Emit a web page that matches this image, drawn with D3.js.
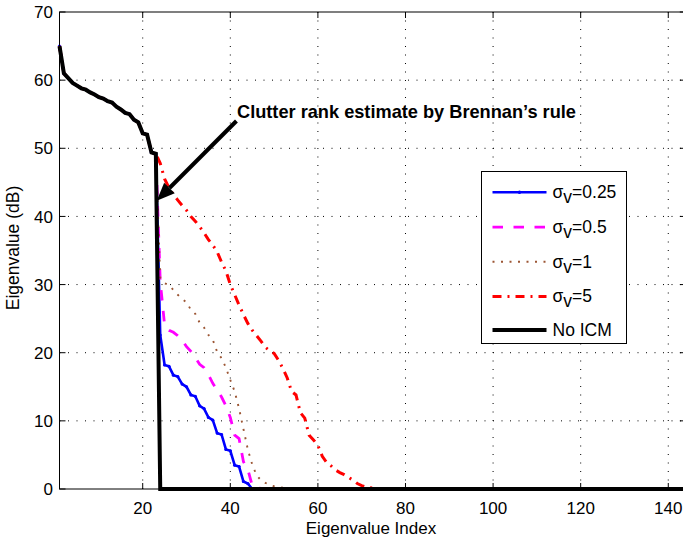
<!DOCTYPE html>
<html>
<head>
<meta charset="utf-8">
<script src="https://cdn.jsdelivr.net/npm/d3@7"></script>
<style>
  body { margin: 0; background: #fff; }
  svg { display: block; font-family: "Liberation Sans", Arial, Helvetica, sans-serif; }
</style>
</head>
<body>
<div id="chart"></div>
<script>
// eigenvalue index runs 1..144
const lastIndex = 144;
const xTicks = [20, 40, 60, 80, 100, 120, 140];
const yTicks = [0, 10, 20, 30, 40, 50, 60, 70];

// first 23 eigenvalues (dB), shared by every curve
const clutterHead = [65.0, 61.0, 60.3, 59.6, 59.2, 58.8, 58.6, 58.2, 57.9, 57.5, 57.3, 56.9,
  56.7, 56.1, 55.7, 55.2, 55.0, 54.2, 53.8, 52.2, 52.0, 49.4, 49.2];

// values from index 24 on, until the curve reaches 0 dB
const tailNoIcm = [0];
const tailSigma025 = [22.6, 18.2, 18.0, 16.7, 16.5, 15.4, 15.0, 13.8, 13.6, 12.2, 11.8, 10.5,
  10.1, 8.2, 8.0, 5.8, 5.6, 3.5, 3.3, 1.1, 0.8, 0];
const tailSigma05 = [30.5, 24.0, 23.3, 23.0, 22.5, 21.8, 20.9, 20.2, 19.3, 18.3, 17.8, 16.8,
  15.5, 14.5, 13.5, 12.2, 10.5, 7.9, 7.4, 4.0, 2.9, 0.5, 0.2, 0.1, 0];
const tailSigma1 = [31.0, 30.2, 29.9, 29.2, 28.5, 27.9, 27.4, 26.3, 25.7, 24.4, 23.7, 22.6,
  21.9, 20.1, 19.2, 17.8, 16.0, 14.3, 11.8, 8.8, 5.8, 3.6, 2.0, 1.3, 0.9, 0.6, 0.4, 0.3,
  0.2, 0.15, 0.1, 0.05, 0];
const tailSigma5 = [47.8, 45.5, 44.2, 43.2, 42.4, 41.6, 40.9, 40.0, 39.3, 38.5, 37.6, 36.6,
  35.8, 34.8, 33.3, 32.0, 30.0, 28.5, 27.0, 25.6, 24.3, 23.3, 22.5, 21.7, 20.8, 20.3, 19.9,
  18.9, 17.7, 16.3, 14.3, 13.8, 11.2, 10.4, 7.9, 7.2, 6.4, 4.8, 3.9, 3.4, 2.8, 2.4, 2.1,
  1.7, 1.3, 0.8, 0.5, 0.3, 0.2, 0.1, 0.05, 0];

const seriesNames = ["0.25", "0.5", "1", "5", "No ICM"];

const W = 683, H = 541;
const plotL = 59.5, plotR = 685.8, plotT = 12, plotB = 489;

const x = d3.scaleLinear().domain([1, lastIndex]).range([plotL, plotR]);
const y = d3.scaleLinear().domain([0, 70]).range([plotB, plotT]);

function toPoints(tail) {
  const vals = clutterHead.concat(tail);
  const pts = vals.map((v, i) => [i + 1, v]);
  // flat at 0 dB out to the last index
  pts.push([lastIndex, 0]);
  return pts;
}

const series = [
  { name: seriesNames[0], pts: toPoints(tailSigma025), color: "#0000ff", width: 2.6, dash: null, marker: true },
  { name: seriesNames[1], pts: toPoints(tailSigma05), color: "#ff00ff", width: 2.8, dash: "10.5,10.5" },
  { name: seriesNames[2], pts: toPoints(tailSigma1), color: "#9c5634", width: 1.9, dash: "2,6.5" },
  { name: seriesNames[3], pts: toPoints(tailSigma5), color: "#ff0000", width: 3, dash: "9,6,2,6" },
  { name: seriesNames[4], pts: toPoints(tailNoIcm), color: "#000000", width: 4, dash: null }
];

const svg = d3.select("#chart").append("svg")
  .attr("width", W)
  .attr("height", H);

svg.append("defs").append("clipPath").attr("id", "plotclip")
  .append("rect")
  .attr("x", plotL - 3).attr("y", plotT - 3)
  .attr("width", plotR - plotL + 6).attr("height", plotB - plotT + 6);

// grid
const grid = svg.append("g");
grid.selectAll(".vg").data(xTicks).enter().append("line")
  .attr("x1", d => x(d)).attr("x2", d => x(d))
  .attr("y1", plotT).attr("y2", plotB)
  .attr("stroke", "#000").attr("stroke-width", 1)
  .attr("stroke-dasharray", "1,7.5");
grid.selectAll(".hg").data(yTicks.slice(1, -1)).enter().append("line")
  .attr("x1", plotL).attr("x2", plotR)
  .attr("y1", d => y(d)).attr("y2", d => y(d))
  .attr("stroke", "#000").attr("stroke-width", 1)
  .attr("stroke-dasharray", "1,7.5");

// curves
const line = d3.line().x(d => x(d[0])).y(d => y(d[1]));
const curves = svg.append("g").attr("clip-path", "url(#plotclip)");
series.forEach(s => {
  curves.append("path")
    .datum(s.pts)
    .attr("d", line)
    .attr("fill", "none")
    .attr("stroke", s.color)
    .attr("stroke-width", s.width)
    .attr("stroke-linejoin", "miter")
    .attr("stroke-dasharray", s.dash);
  if (s.marker) {
    curves.selectAll(null).data(s.pts.slice(0, -1)).enter().append("circle")
      .attr("cx", d => x(d[0])).attr("cy", d => y(d[1]))
      .attr("r", 1.6).attr("fill", s.color);
  }
});

// frame and ticks
svg.append("rect")
  .attr("x", plotL).attr("y", plotT)
  .attr("width", plotR - plotL).attr("height", plotB - plotT)
  .attr("fill", "none").attr("stroke", "#000").attr("stroke-width", 1);

const tl = 6;
svg.selectAll(".xt").data(xTicks).enter().append("path")
  .attr("d", d => `M${x(d)},${plotB}v${-tl}M${x(d)},${plotT}v${tl}`)
  .attr("stroke", "#000").attr("stroke-width", 1);
svg.selectAll(".yt").data(yTicks).enter().append("path")
  .attr("d", d => `M${plotL},${y(d)}h${tl}M${plotR},${y(d)}h${-tl}`)
  .attr("stroke", "#000").attr("stroke-width", 1);

svg.selectAll(".xl").data(xTicks).enter().append("text")
  .attr("x", d => x(d)).attr("y", 514)
  .attr("text-anchor", "middle")
  .attr("font-size", 17)
  .text(d => d);
svg.selectAll(".yl").data(yTicks).enter().append("text")
  .attr("x", 53).attr("y", d => y(d))
  .attr("dy", "0.36em")
  .attr("text-anchor", "end")
  .attr("font-size", 17)
  .text(d => d);

svg.append("text")
  .attr("x", 371).attr("y", 534)
  .attr("text-anchor", "middle")
  .attr("font-size", 17)
  .text("Eigenvalue Index");
svg.append("text")
  .attr("transform", "translate(19,248) rotate(-90)")
  .attr("text-anchor", "middle")
  .attr("font-size", 17.5)
  .text("Eigenvalue (dB)");

// Brennan's rule annotation
const arrowTail = [41.4, 54.0], arrowTip = [23.2, 42.3];
const ax0 = x(arrowTail[0]), ay0 = y(arrowTail[1]);
const ax1 = x(arrowTip[0]), ay1 = y(arrowTip[1]);
const ang = Math.atan2(ay1 - ay0, ax1 - ax0);
const headLen = 18, headHalf = 7.5;
const bx = ax1 - headLen * Math.cos(ang), by = ay1 - headLen * Math.sin(ang);
svg.append("line")
  .attr("x1", ax0).attr("y1", ay0)
  .attr("x2", bx).attr("y2", by)
  .attr("stroke", "#000").attr("stroke-width", 4);
svg.append("path")
  .attr("d", `M${ax1},${ay1}L${bx + headHalf * Math.sin(ang)},${by - headHalf * Math.cos(ang)}` +
    `L${bx - headHalf * Math.sin(ang)},${by + headHalf * Math.cos(ang)}Z`)
  .attr("fill", "#000");
svg.append("text")
  .attr("x", 237).attr("y", 118)
  .attr("font-size", 18.2)
  .attr("font-weight", "bold")
  .text("Clutter rank estimate by Brennan\u2019s rule");

// legend
const lg = svg.append("g");
lg.append("rect")
  .attr("x", 481.5).attr("y", 171.5)
  .attr("width", 145).attr("height", 172)
  .attr("fill", "#fff").attr("stroke", "#000").attr("stroke-width", 1);
const rowY = [192.3, 227.2, 261.7, 296.4, 330];
series.forEach((s, i) => {
  lg.append("line")
    .attr("x1", 492.5).attr("x2", 546.5)
    .attr("y1", rowY[i]).attr("y2", rowY[i])
    .attr("stroke", s.color)
    .attr("stroke-width", s.width)
    .attr("stroke-dasharray", s.dash);
  if (s.marker) {
    lg.append("circle").attr("cx", 519.5).attr("cy", rowY[i]).attr("r", 1.8).attr("fill", s.color);
  }
  const t = lg.append("text")
    .attr("x", 552.5).attr("y", rowY[i] + 6)
    .attr("font-size", 17.5);
  if (s.name === "No ICM") {
    t.text(s.name);
  } else {
    t.append("tspan").text("\u03c3");
    t.append("tspan").attr("dy", 5).text("v");
    t.append("tspan").attr("dy", -5).text("=" + s.name);
  }
});
</script>
</body>
</html>
